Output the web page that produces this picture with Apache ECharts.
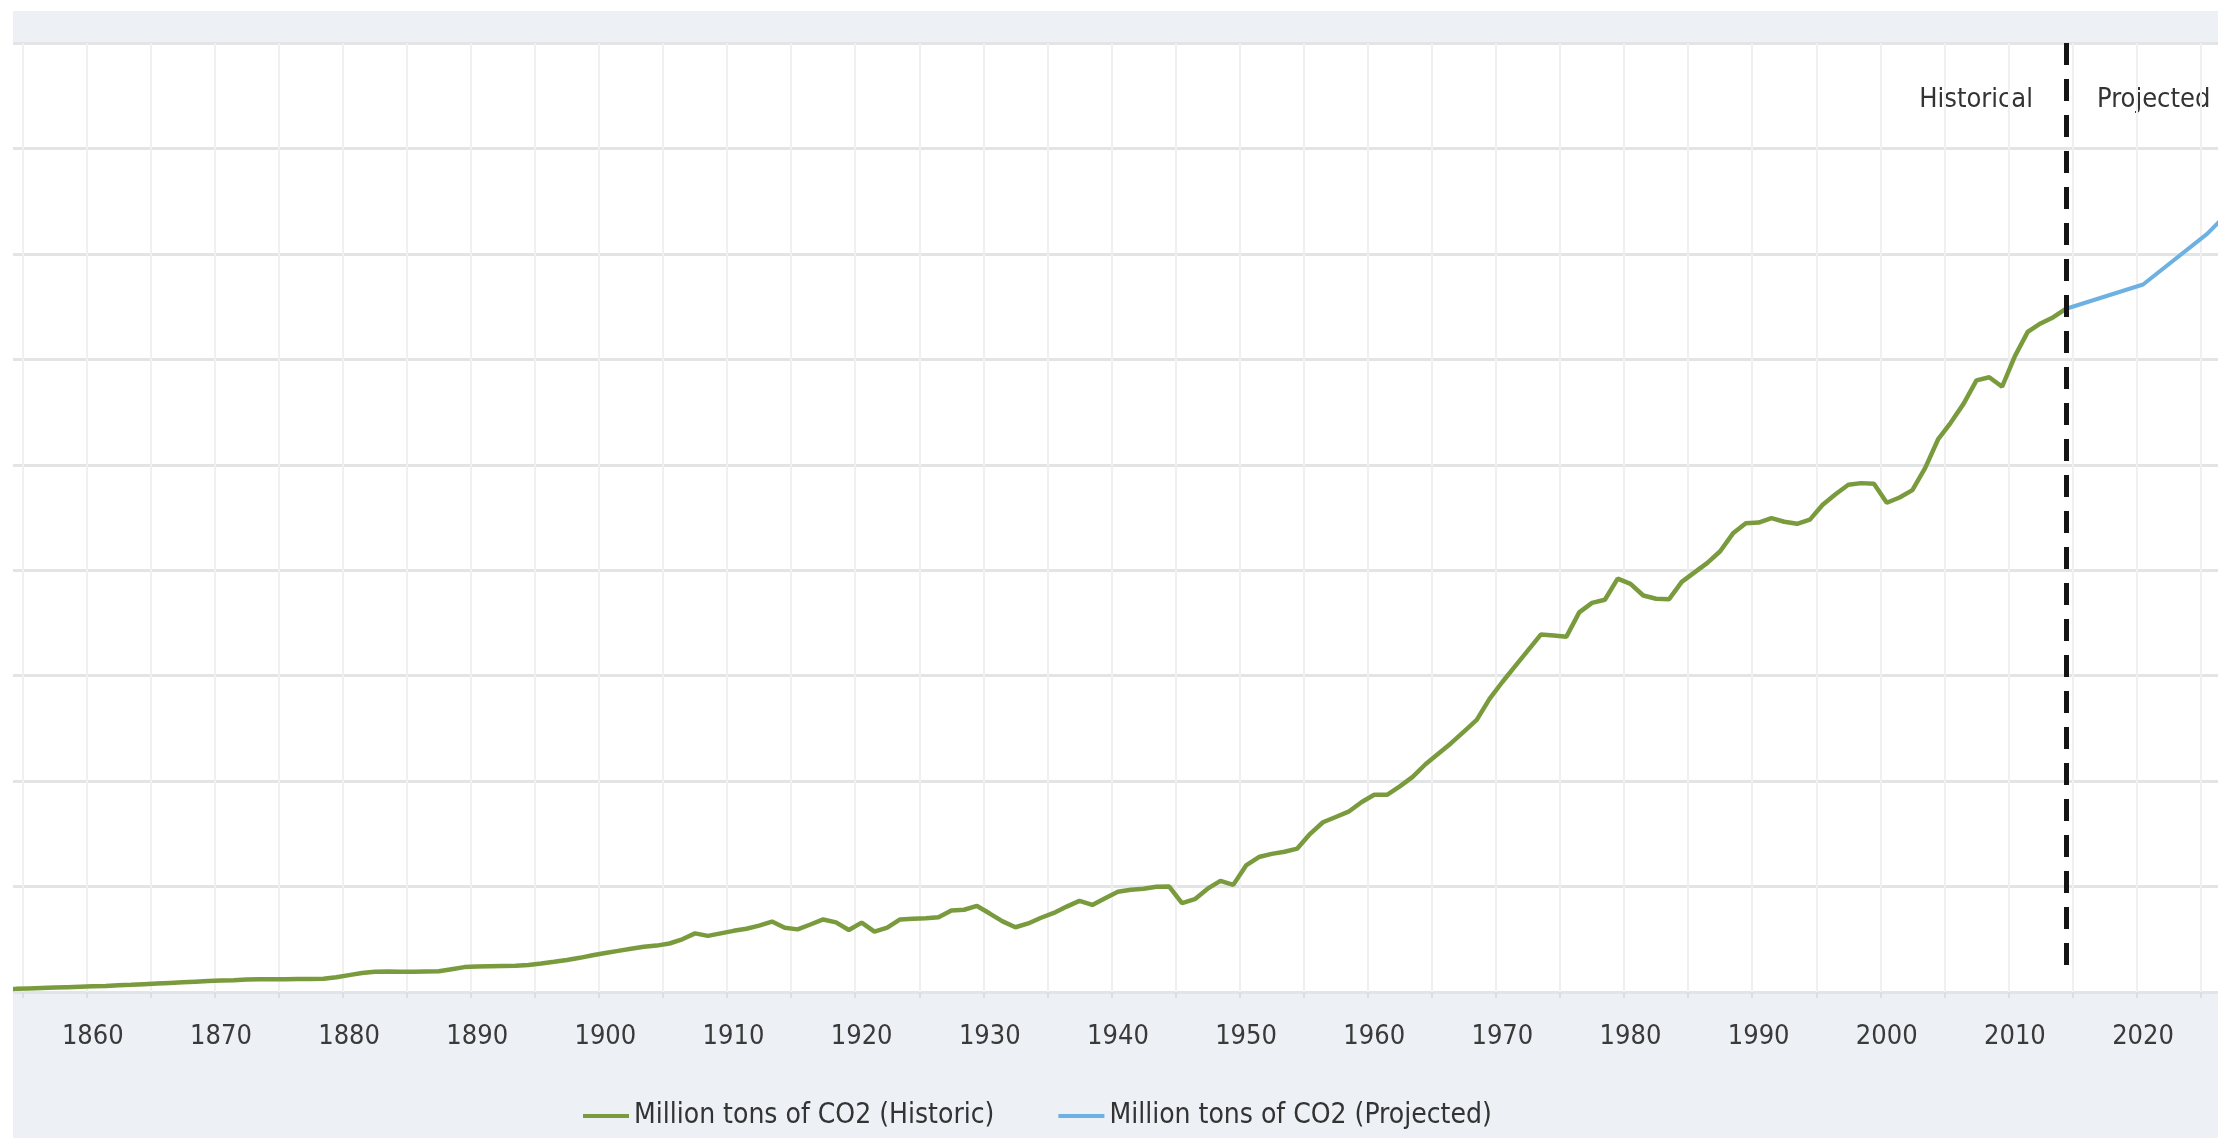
<!DOCTYPE html>
<html>
<head>
<meta charset="utf-8">
<script src="https://cdn.jsdelivr.net/npm/echarts@6/dist/echarts.min.js"></script>
<style>
  html, body { margin: 0; padding: 0; background: #ffffff; }
  #chart { position: absolute; left: 13px; top: 11px; width: 2205px; height: 1127px; }
</style>
</head>
<body>
<div id="chart"></div>
<script>
// years shown on the category axis (first/last bands partly off the crop)
var firstYear = 1853;
var lastYear = 2030;
var years = [];
for (var y = firstYear; y <= lastYear; y++) {
    years.push(String(y));
}

// Million tons of CO2, historic, 1853 .. 2014
var historicStart = 1853;
var historicValues = [
    140, 150, 170, 190, 210, 230, 250,                                   // 1853-1859
    270, 290, 320, 340, 370, 400, 430, 460, 490, 520,                    // 1860s
    540, 560, 590, 600, 610, 610, 620, 620, 630, 700,                    // 1870s
    800, 900, 960, 970, 960, 960, 970, 980, 1080, 1180,                  // 1880s
    1210, 1220, 1230, 1240, 1280, 1350, 1430, 1520, 1620, 1740,          // 1890s
    1850, 1950, 2050, 2150, 2200, 2300, 2500, 2780, 2660, 2780,          // 1900s
    2900, 3000, 3150, 3340, 3050, 2970, 3200, 3440, 3300, 2940,          // 1910s
    3290, 2860, 3050, 3440, 3470, 3500, 3540, 3860, 3900, 4080,          // 1920s
    3720, 3350, 3070, 3250, 3520, 3750, 4050, 4320, 4130, 4450,          // 1930s
    4750, 4850, 4900, 4990, 5000, 4210, 4400, 4900, 5270, 5080,          // 1940s
    6000, 6400, 6550, 6650, 6800, 7500, 8050, 8300, 8550, 9000,          // 1950s
    9350, 9350, 9750, 10200, 10800, 11300, 11800, 12350, 12900, 13900,   // 1960s
    14700, 15450, 16200, 16950, 16900, 16850, 18000, 18450, 18600, 19600,// 1970s
    19350, 18800, 18650, 18620, 19450, 19900, 20350, 20900, 21750, 22230,// 1980s
    22260, 22470, 22300, 22200, 22400, 23100, 23600, 24050, 24130, 24100,// 1990s
    23200, 23450, 23800, 24850, 26200, 27000, 27900, 29000, 29150, 28700,// 2000s
    30150, 31300, 31700, 32000, 32400                                    // 2010-2014
];

// projected points
var projectedYears = ['2014', '2020', '2025', '2030'];
var projectedValues = [32400, 33550, 35950, 39000];

var splitYear = '2014';

var historicData = historicValues.map(function (v, i) {
    return [String(historicStart + i), v];
});
var projectedData = projectedYears.map(function (yr, i) {
    return [yr, projectedValues[i]];
});

var FONT = "'DejaVu Sans Condensed', 'DejaVu Sans', sans-serif";

var myChart = echarts.init(document.getElementById('chart'));
var option = {
    animation: false,
    backgroundColor: '#edf0f5',
    textStyle: { fontFamily: FONT },
    grid: {
        left: -16.3,
        right: -59.6,
        top: 32,
        bottom: 146,
        outerBoundsMode: 'none',
        containLabel: false,
        show: true,
        backgroundColor: '#ffffff',
        borderWidth: 0
    },
    legend: {
        left: 565,
        top: 1086,
        icon: 'rect',
        itemWidth: 46,
        itemHeight: 4,
        itemGap: 64,
        textStyle: { fontFamily: FONT, fontSize: 28, color: '#333333' },
        data: ['Million tons of CO2 (Historic)', 'Million tons of CO2 (Projected)']
    },
    xAxis: {
        type: 'category',
        data: years,
        boundaryGap: true,
        axisLine: { show: false },
        axisTick: {
            show: true,
            length: 6,
            interval: function (index, value) { return +value % 5 === 0; },
            lineStyle: { color: '#dcdee2', width: 2 }
        },
        axisLabel: {
            interval: function (index, value) { return +value % 10 === 0; },
            margin: 31,
            fontFamily: FONT,
            fontSize: 27,
            color: '#3a3a3a'
        },
        splitLine: {
            show: true,
            interval: function (index, value) { return +value % 5 === 0; },
            lineStyle: { color: '#f0f0f0', width: 2 }
        }
    },
    yAxis: {
        type: 'value',
        min: 0,
        max: 45000,
        interval: 5000,
        axisLabel: { show: false },
        axisLine: { show: false },
        axisTick: { show: false },
        splitLine: { lineStyle: { color: '#e2e4e6', width: 3 } }
    },
    graphic: [
        {
            type: 'text',
            x: 2020,
            y: 89,
            style: {
                text: 'Historical',
                fill: '#333333',
                font: "27px 'DejaVu Sans Condensed', 'DejaVu Sans', sans-serif",
                align: 'right',
                verticalAlign: 'middle'
            }
        },
        {
            type: 'text',
            x: 2084,
            y: 89,
            style: {
                text: 'Projected',
                fill: '#333333',
                font: "27px 'DejaVu Sans Condensed', 'DejaVu Sans', sans-serif",
                align: 'left',
                verticalAlign: 'middle'
            }
        }
    ],
    series: [
        {
            name: 'Million tons of CO2 (Historic)',
            type: 'line',
            data: historicData,
            symbol: 'none',
            color: '#7a9b3d',
            lineStyle: { color: '#7a9b3d', width: 4.5 },
            z: 3,
            markLine: {
                silent: true,
                symbol: 'none',
                label: { show: false },
                lineStyle: { color: '#141414', width: 5, type: [22, 14] },
                data: [
                    [{ coord: [years.indexOf(splitYear), 45000] }, { coord: [years.indexOf(splitYear), 700] }]
                ]
            }
        },
        {
            name: 'Million tons of CO2 (Projected)',
            type: 'line',
            data: projectedData,
            symbol: 'none',
            color: '#6db0e2',
            lineStyle: { color: '#6db0e2', width: 4 },
            z: 3
        }
    ]
};
myChart.setOption(option);
</script>
</body>
</html>
